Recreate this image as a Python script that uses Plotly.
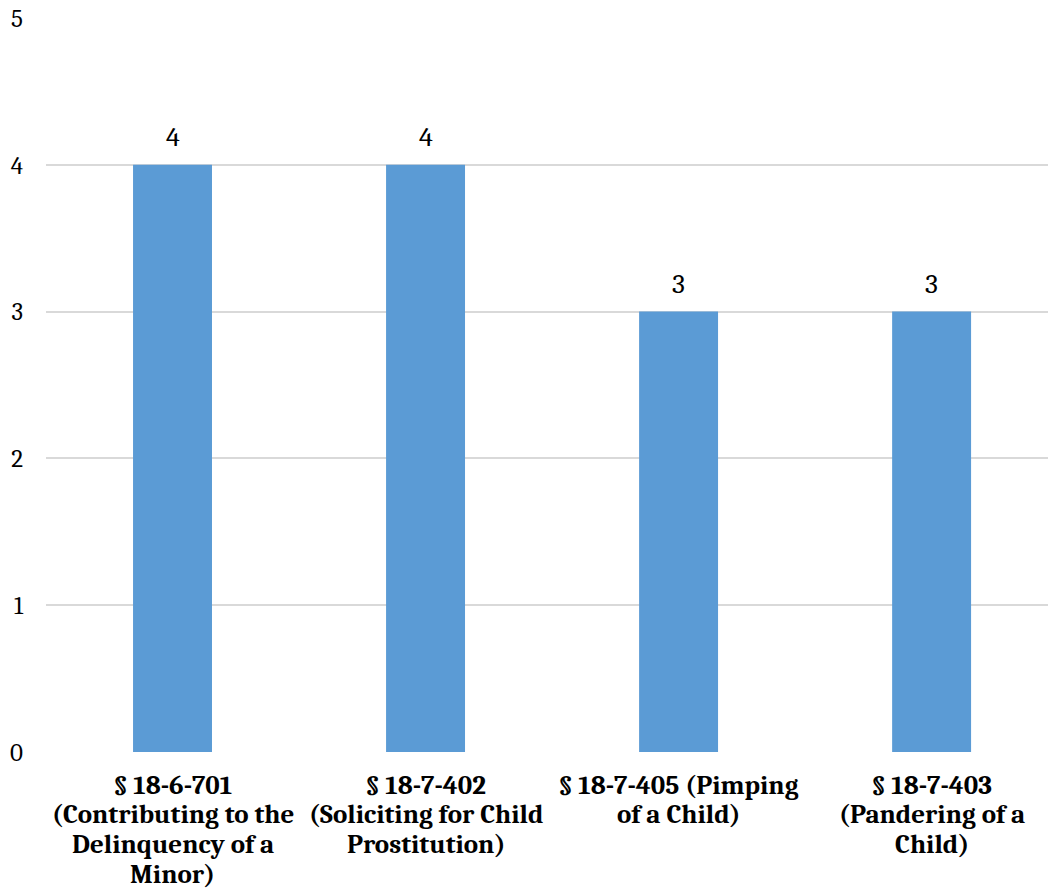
import plotly.graph_objects as go

# Category labels, one list of wrapped lines per bar
category_lines = [
    ["§ 18-6-701", "(Contributing to the", "Delinquency of a", "Minor)"],
    ["§ 18-7-402", "(Soliciting for Child", "Prostitution)"],
    ["§ 18-7-405 (Pimping", "of a Child)"],
    ["§ 18-7-403", "(Pandering of a", "Child)"],
]
counts = [4, 4, 3, 3]
y_ticks = [0, 1, 2, 3, 4, 5]

SERIF = "Cambria, Caladea, 'Liberation Serif', serif"
x_pos = list(range(len(counts)))

fig = go.Figure(
    go.Bar(
        x=x_pos,
        y=counts,
        width=0.312,
        marker=dict(color="#5b9bd5", line=dict(width=0)),
        hoverinfo="skip",
    )
)

# value labels above each bar
for xi, v in zip(x_pos, counts):
    fig.add_annotation(
        x=xi, y=v, xref="x", yref="y",
        text=str(v), showarrow=False,
        yanchor="bottom", yshift=10,
        font=dict(family=SERIF, size=28, color="#000000"),
    )

# bold wrapped category labels under the axis, fixed line spacing
LINE_GAP = 29.7
FIRST_OFFSET = 33
for xi, lines in zip(x_pos, category_lines):
    for k, line in enumerate(lines):
        fig.add_annotation(
            x=xi, y=0, xref="x", yref="paper",
            text=line, showarrow=False,
            yanchor="middle", yshift=-(FIRST_OFFSET + k * LINE_GAP),
            font=dict(family=SERIF, size=27, color="#000000", weight="bold"),
        )

fig.update_layout(
    width=1048,
    height=893,
    margin=dict(l=46, r=0, t=18, b=141),
    plot_bgcolor="white",
    paper_bgcolor="white",
    showlegend=False,
)

fig.update_xaxes(
    range=[-0.5, 3.46],
    showticklabels=False,
    showgrid=False,
    showline=False,
    zeroline=False,
    ticks="",
)

fig.update_yaxes(
    range=[0, 5],
    tickmode="array",
    tickvals=y_ticks,
    tickfont=dict(family=SERIF, size=25, color="#000000"),
    showgrid=True,
    gridcolor="#d9d9d9",
    gridwidth=2,
    zeroline=False,
    showline=False,
    ticks="",
    ticklabelstandoff=22,
)

fig.write_html("out.html")
